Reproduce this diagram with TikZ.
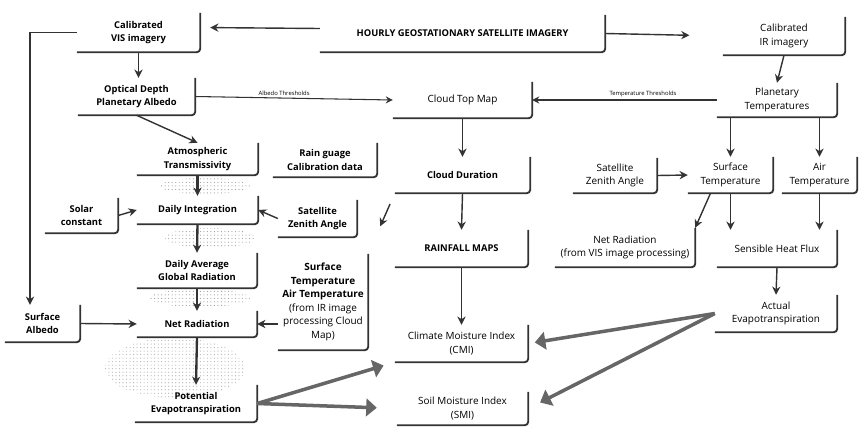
\documentclass[tikz,border=0pt]{standalone}
\usepackage{fontspec}
\setmainfont{Open Sans}
\usetikzlibrary{arrows.meta,patterns}

\tikzset{
  boxedge/.style={draw=black!80, line width=1.6pt, rounded corners=3pt},
}

\begin{document}
\begin{tikzpicture}[
    x=0.03cm, y=-0.03cm,
    every node/.style={align=center, inner sep=0pt, font=\fontsize{8.5}{11.5}\selectfont},
    lbox/.style 2 args={minimum width=#1*0.03cm, minimum height=#2*0.03cm,
      append after command={\pgfextra{\draw[boxedge] (\tikzlastnode.south west) -- (\tikzlastnode.south east) -- (\tikzlastnode.north east);}}},
    heavy/.style={font=\fontsize{8}{11.5}\selectfont\bfseries},
    flow/.style={draw=black!80, line width=1.2pt, -{Stealth[length=7pt,width=7pt]}},
    thin/.style={draw=black!80, line width=0.9pt, -{Stealth[length=6pt,width=6pt]}},
    fat/.style={draw=black!60, line width=3pt, -{Triangle[length=9pt,width=15pt]}},
    small/.style={font=\fontsize{5}{6}\selectfont},
  ]
  \useasboundingbox (0,0) rectangle (859,446);

  % stipple behind the left column
  \fill[pattern=dots, pattern color=black!40] (205,186) ellipse [x radius=45, y radius=8];
  \fill[pattern=dots, pattern color=black!40] (210,238) ellipse [x radius=45, y radius=10];
  \fill[pattern=dots, pattern color=black!40] (200,298) ellipse [x radius=50, y radius=9];
  \fill[pattern=dots, pattern color=black!30] (175,368) ellipse [x radius=70, y radius=30];

  % top row
  \node[lbox={123}{39}, heavy] (vis) at (138.5,32.5) {Calibrated\\VIS imagery};
  \node[lbox={285}{37}, heavy] (hourly) at (462.5,33.5) {HOURLY GEOSTATIONARY SATELLITE IMAGERY};
  \node[lbox={122}{38}] (ir) at (784,36) {Calibrated\\IR imagery};

  % second row
  \node[lbox={117}{37}, heavy] (optical) at (136.5,96.5) {Optical Depth\\Planetary Albedo};
  \node[lbox={139}{36}] (cloudtop) at (462.5,100) {Cloud Top Map};
  \node[lbox={120}{34}] (planetary) at (777,100) {Planetary\\Temperatures};

  % left column
  \node[lbox={121}{32}, heavy] (atmos) at (197.5,159) {Atmospheric\\Transmissivity};
  \node[lbox={121}{28}, heavy] (daily) at (197.5,210) {Daily Integration};
  \node[lbox={120}{35}, heavy] (avg) at (197,270.5) {Daily Average\\Global Radiation};
  \node[lbox={120}{26}, heavy] (netL) at (197,324) {Net Radiation};
  \node[lbox={122}{37}, heavy] (pot) at (196,403.5) {Potential\\Evapotranspiration};
  \node[lbox={73}{35}, heavy] (solar) at (81.5,215.5) {Solar\\constant};
  \node[lbox={75}{37}, heavy] (albedo) at (42.5,323.5) {Surface\\Albedo};

  % inputs beside the left column
  \node[lbox={104}{34}, heavy] (rain) at (325,160) {Rain guage\\Calibration data};
  \node[lbox={79}{37}, heavy] (zenL) at (317.5,218.5) {Satellite\\Zenith Angle};
  \node[lbox={90}{96}] (surfL) at (323,302) {\textbf{Surface}\\\textbf{Temperature}\\\textbf{Air Temperature}\\(from IR image\\processing Cloud\\Map)};

  % middle column
  \node[lbox={135}{36}, heavy] (clouddur) at (462.5,175) {Cloud Duration};
  \node[lbox={133}{37}, heavy] (rainfall) at (461.5,248.5) {RAINFALL MAPS};
  \node[lbox={133}{37}] (cmi) at (461.5,343.5) {Climate Moisture Index\\(CMI)};
  \node[lbox={131}{33}] (smi) at (462.5,408.5) {Soil Moisture Index\\(SMI)};

  % right column
  \node[lbox={84}{35}] (zenR) at (615,175.5) {Satellite\\Zenith Angle};
  \node[lbox={85}{36}] (surfR) at (730.5,175) {Surface\\Temperature};
  \node[lbox={75}{36}] (airR) at (819.5,175) {Air\\Temperature};
  \node[lbox={140}{39}] (netR) at (625,247.5) {Net Radiation\\(from VIS image processing)};
  \node[lbox={120}{37}] (sensible) at (777,248.5) {Sensible Heat Flux};
  \node[lbox={122}{37}] (actual) at (776,313.5) {Actual\\Evapotranspiration};

  % connections from the satellite imagery
  \draw[flow, shorten >=0.3cm] ([yshift=0.15cm]hourly.west) -- ([yshift=0.15cm]vis.east);
  \draw[flow, shorten >=1cm] (hourly.east) -- (ir.west);
  \draw[flow] (vis.south) -- (vis.south |- optical.north);
  \draw[flow] (vis.west) -| ([xshift=-0.375cm]albedo.north);
  \draw[flow] (ir.south) -- (planetary.north);

  % thresholds into the cloud top map
  \draw[thin] (optical.east) -- (cloudtop.west)
    node[pos=0.45, above=2pt, small] {Albedo Thresholds};
  \draw[thin] (planetary.west) -- (cloudtop.east)
    node[pos=0.4, above=2pt, small] {Temperature Thresholds};

  % left column
  \draw[flow] (optical.south) -- (atmos.north);
  \draw[flow, line width=2pt] (atmos.south) -- (daily.north);
  \draw[flow, line width=2pt] (daily.south) -- (avg.north);
  \draw[flow, line width=2pt] (avg.south) -- (netL.north);
  \draw[flow, line width=2pt] (netL.south) -- (pot.north);
  \draw[flow] (solar.east) -- (daily.west);
  \draw[flow] (zenL.west) -- (daily.east);
  \draw[flow] (albedo.east) -- (netL.west);
  \draw[flow] (surfL.west |- netL.east) -- (netL.east);

  % middle column
  \draw[flow] (cloudtop.south) -- (clouddur.north);
  \draw[flow] (clouddur.south) -- (rainfall.north);
  \draw[flow] (rainfall.south) -- (cmi.north);
  \draw[flow, shorten <=0.35cm, shorten >=0.9cm] (clouddur.south west) -- (surfL.north east);

  % right column
  \draw[flow] (surfR.north |- planetary.south) -- (surfR.north);
  \draw[flow] (airR.north |- planetary.south) -- (airR.north);
  \draw[flow] (zenR.east) -- (surfR.west);
  \draw[flow] ([xshift=-0.6cm]surfR.south) -- (netR.north east);
  \draw[flow] (surfR.south) -- (surfR.south |- sensible.north);
  \draw[flow] (airR.south) -- (airR.south |- sensible.north);
  \draw[flow] (sensible.south) -- (actual.north);

  % into the moisture indices
  \draw[fat, shorten >=0.2cm] (actual.west) -- (cmi.east);
  \draw[fat, shorten >=0.4cm] (actual.west) -- (smi.east);
  \draw[fat, shorten >=0.35cm] (pot.east) -- (cmi.south west);
  \draw[fat, shorten >=0.6cm] (pot.east) -- (smi.west);
\end{tikzpicture}
\end{document}
